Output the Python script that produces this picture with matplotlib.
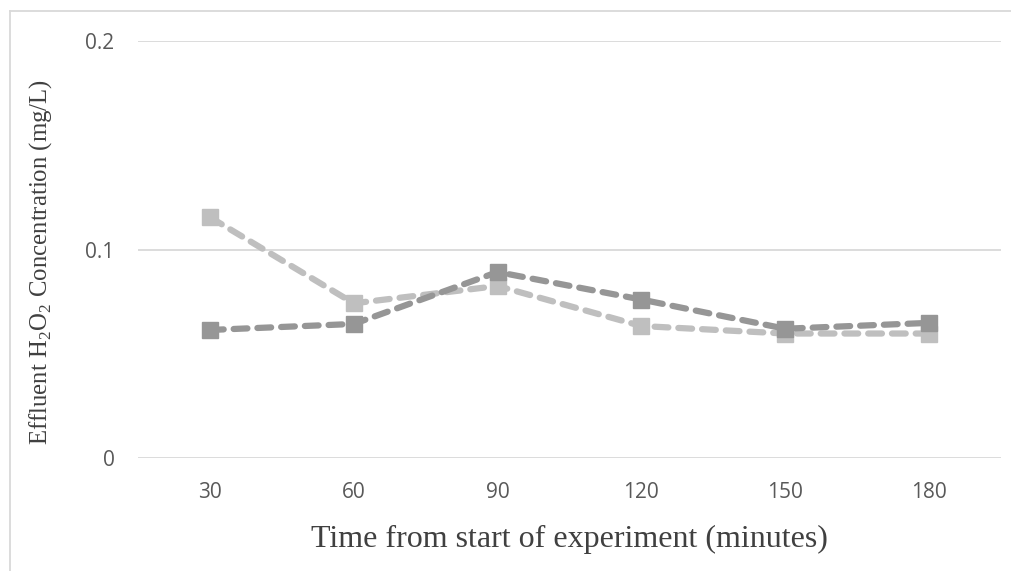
import matplotlib
matplotlib.use("Agg")
import matplotlib.pyplot as plt
from matplotlib.lines import Line2D

# Effluent H2O2 readings, two runs
minutes = ["30", "60", "90", "120", "150", "180"]
run_a = [0.0614, 0.0643, 0.0892, 0.0760, 0.0620, 0.0648]
run_b = [0.1155, 0.0742, 0.0825, 0.0633, 0.0597, 0.0597]
y_ticks = [0, 0.1, 0.2]

plt.rcParams["mathtext.fontset"] = "custom"
plt.rcParams["mathtext.rm"] = "Liberation Serif"

fig = plt.figure(figsize=(10.12, 5.71), dpi=100)
ax = fig.add_axes([0.1364, 0.198, 0.8526, 0.730])

x = list(range(len(minutes)))
ax.plot(x, run_a, color="#969696", lw=4.5, ls=(0, (2.2, 1.6)), dash_capstyle="round",
        marker="s", ms=11, mec="#969696", mfc="#969696", zorder=3)
ax.plot(x, run_b, color="#bfbfbf", lw=4.5, ls=(0, (2.2, 1.6)), dash_capstyle="round",
        marker="s", ms=11, mec="#bfbfbf", mfc="#bfbfbf", zorder=2)

ax.set_xlim(-0.5, len(minutes) - 0.5)
ax.set_ylim(0, 0.2)
ax.set_xticks(x)
ax.set_xticklabels(minutes)
ax.set_yticks(y_ticks)
ax.set_yticklabels(["0", "0.1", "0.2"])
ax.tick_params(length=0, labelsize=15, labelcolor="#595959")
ax.tick_params(axis="y", pad=17)
ax.tick_params(axis="x", pad=17)
for lab in ax.get_xticklabels() + ax.get_yticklabels():
    lab.set_family("Open Sans")

ax.grid(axis="y", color="#d9d9d9", lw=1.3)
ax.set_axisbelow(True)
for s in ax.spines.values():
    s.set_visible(False)

ax.set_xlabel("Time from start of experiment (minutes)", family="Liberation Serif",
              fontsize=23, color="#404040", labelpad=16)
ax.set_ylabel(r"Effluent H$_2$O$_2$ Concentration (mg/L)", family="Liberation Serif",
              fontsize=17.8, color="#404040")
ax.yaxis.set_label_coords(-0.097, 0.47)

# chart area border, top and left edges
top = 1 - 11 / 571
left = 10 / 1012
fig.add_artist(Line2D([left, 1.0], [top, top], transform=fig.transFigure, color="#d9d9d9", lw=1.3))
fig.add_artist(Line2D([left, left], [0.0, top], transform=fig.transFigure, color="#d9d9d9", lw=1.3))

fig.savefig("out.png", dpi=100)
